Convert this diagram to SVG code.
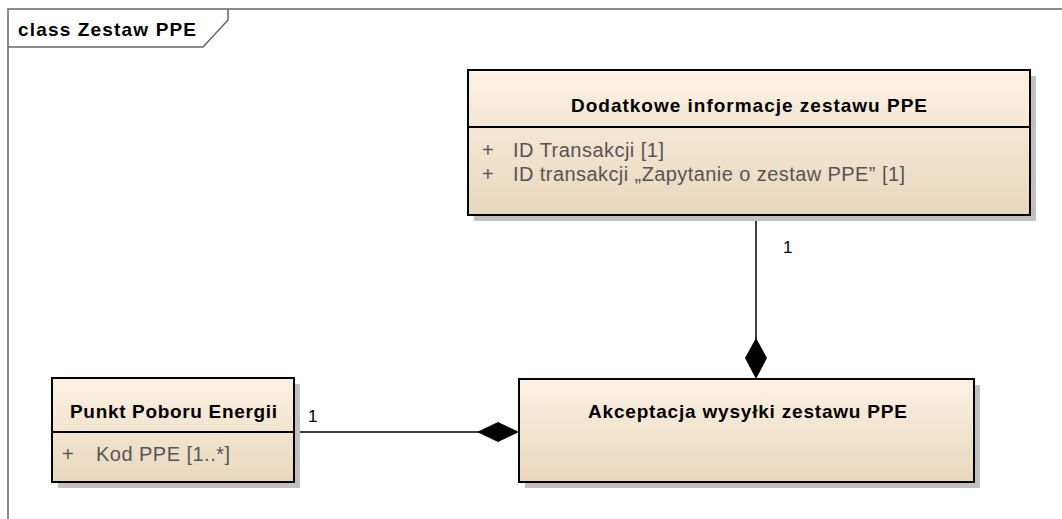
<svg xmlns="http://www.w3.org/2000/svg" width="1062" height="519" viewBox="0 0 1062 519">
<defs>
<linearGradient id="g" x1="0" y1="0" x2="0" y2="1">
<stop offset="0" stop-color="#fcf1e4"/>
<stop offset="1" stop-color="#e8d7bd"/>
</linearGradient>
<style>
.shadow{fill:#c0c0c0}
.box{fill:url(#g);stroke:#000;stroke-width:2}
.sep{stroke:#000;stroke-width:2}
.title{font-family:"Liberation Sans",Arial,sans-serif;font-weight:bold;font-size:19px;fill:#000}
.attr{font-family:"Liberation Sans",Arial,sans-serif;font-size:20px;fill:#555}
.lbl{font-family:"Liberation Sans",Arial,sans-serif;font-size:17px;fill:#000}
.frame{fill:none;stroke:#666;stroke-width:1.5}
.conn{stroke:#000;stroke-width:1.5;fill:none}
.dia{fill:#000}
</style>
</defs>
<rect width="1062" height="519" fill="#fff"/>
<g id="frame">
<path class="frame" d="M8,519 V9 H1062"/>
<path class="frame" d="M8,47 H203 L228,20 V9"/>
<text class="title" x="18" y="36" font-size="18" textLength="178" lengthAdjust="spacing">class Zestaw PPE</text>
</g>
<g id="connectors">
<line class="conn" x1="756" y1="215" x2="756" y2="340"/>
<path class="dia" d="M756,338 L767,358 L756,379 L745,358 Z"/>
<text class="lbl" x="783" y="253">1</text>
<line class="conn" x1="294" y1="432" x2="480" y2="432"/>
<path class="dia" d="M477,432 L498,422 L519,432 L498,442 Z"/>
<text class="lbl" x="308" y="422">1</text>
</g>
<g id="node-dodatkowe">
<rect class="shadow" x="474" y="76" width="562" height="145"/>
<rect class="box" x="468" y="70" width="562" height="145"/>
<line class="sep" x1="468" y1="127" x2="1030" y2="127"/>
<text class="title" x="571" y="112" textLength="356" lengthAdjust="spacing">Dodatkowe informacje zestawu PPE</text>
<text class="attr" x="482" y="157">+</text>
<text class="attr" x="513" y="157" textLength="151" lengthAdjust="spacing">ID Transakcji [1]</text>
<text class="attr" x="482" y="181">+</text>
<text class="attr" x="513" y="181" textLength="392" lengthAdjust="spacing">ID transakcji „Zapytanie o zestaw PPE” [1]</text>
</g>
<g id="node-punkt">
<rect class="shadow" x="58" y="384" width="242" height="104"/>
<rect class="box" x="52" y="378" width="242" height="104"/>
<line class="sep" x1="52" y1="432" x2="294" y2="432"/>
<text class="title" x="70" y="418" textLength="207" lengthAdjust="spacing">Punkt Poboru Energii</text>
<text class="attr" x="62" y="461">+</text>
<text class="attr" x="96" y="461" textLength="134" lengthAdjust="spacing">Kod PPE [1..*]</text>
</g>
<g id="node-akceptacja">
<rect class="shadow" x="525" y="385" width="455" height="103"/>
<rect class="box" x="519" y="379" width="455" height="103"/>
<text class="title" x="588" y="418" textLength="319" lengthAdjust="spacing">Akceptacja wysyłki zestawu PPE</text>
</g>
</svg>
